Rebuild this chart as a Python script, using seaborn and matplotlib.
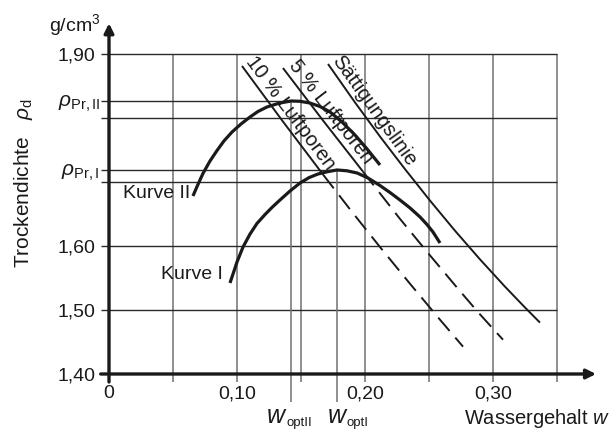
import matplotlib
matplotlib.use("Agg")
import numpy as np
import matplotlib.pyplot as plt
import seaborn as sns


# Proctor curves, water content w [-] and dry density rho_d [g/cm3]
w_kurve2 = [0.0656, 0.0688, 0.0734, 0.0789, 0.0844, 0.0898, 0.0961, 0.1031, 0.1102, 0.1164,
            0.1234, 0.1328, 0.1422, 0.1492, 0.1570, 0.1648, 0.1727, 0.1820, 0.1922, 0.2016,
            0.2117]
rho_kurve2 = [1.6781, 1.6930, 1.7133, 1.7328, 1.7492, 1.7641, 1.7781, 1.7906, 1.8016, 1.8102,
              1.8172, 1.8231, 1.8266, 1.8261, 1.8234, 1.8180, 1.8094, 1.7938, 1.7734, 1.7516,
              1.7266]

w_kurve1 = [0.0945, 0.0969, 0.1000, 0.1047, 0.1102, 0.1156, 0.1219, 0.1273, 0.1336, 0.1414,
            0.1492, 0.1563, 0.1633, 0.1703, 0.1781, 0.1859, 0.1938, 0.2023, 0.2117, 0.2195,
            0.2273, 0.2352, 0.2430, 0.2484, 0.2531, 0.2586]
rho_kurve1 = [1.5422, 1.5563, 1.5750, 1.5984, 1.6188, 1.6352, 1.6492, 1.6602, 1.6719, 1.6859,
              1.6984, 1.7069, 1.7125, 1.7159, 1.7188, 1.7175, 1.7141, 1.7063, 1.6945, 1.6836,
              1.6719, 1.6594, 1.6453, 1.6336, 1.6219, 1.6047]

# saturation line and air void lines
w_saett = [0.1711, 0.1922, 0.2117, 0.2313, 0.2508, 0.2703, 0.2898, 0.3094, 0.3250, 0.3367]
rho_saett = [1.8844, 1.8243, 1.7711, 1.7200, 1.6709, 1.6239, 1.5792, 1.5364, 1.5039, 1.4803]

w_lp5 = [0.1359, 0.1672, 0.1984, 0.2266, 0.2500, 0.2734, 0.2891, 0.3078]
rho_lp5 = [1.8781, 1.7961, 1.7163, 1.6442, 1.5872, 1.5314, 1.4948, 1.4536]

w_lp10 = [0.1039, 0.1352, 0.1672, 0.1898, 0.2117, 0.2352, 0.2586, 0.2766]
rho_lp10 = [1.8813, 1.7963, 1.7117, 1.6534, 1.5984, 1.5409, 1.4848, 1.4427]

# Proctor optimum
w_opt = [0.1422, 0.1781]          # II, I
rho_pr = [1.8266, 1.7188]         # II, I

x_ticks = [0.0, 0.10, 0.20, 0.30]
x_ticklabels = ["0", "0,10", "0,20", "0,30"]
y_ticks = [1.40, 1.50, 1.60, 1.90]
y_ticklabels = ["1,40", "1,50", "1,60", "1,90"]
grid_w = [0.05, 0.10, 0.15, 0.20, 0.25, 0.30, 0.35]
grid_rho = [1.50, 1.60, 1.70, 1.80, 1.90]

INK = "#1a1a1a"

sns.set_theme(style="white")
plt.rcParams["font.family"] = ["Liberation Sans", "DejaVu Sans"]
plt.rcParams["mathtext.fontset"] = "custom"
plt.rcParams["mathtext.rm"] = "Liberation Sans"
plt.rcParams["mathtext.it"] = "Liberation Sans:italic"
plt.rcParams["text.color"] = INK


def draw(ax, w, rho, lw, dashes=None):
    sns.lineplot(x=w, y=rho, sort=False, estimator=None, color=INK, linewidth=lw, ax=ax)
    line = ax.lines[-1]
    line.set_solid_capstyle("butt")
    line.set_solid_joinstyle("round")
    if dashes is not None:
        line.set_dashes(dashes)
        line.set_dash_capstyle("butt")


def rot_label(ax, p0, p1, xy, text):
    # angle of the line on screen
    a = ax.transData.transform(p0)
    b = ax.transData.transform(p1)
    ang = np.degrees(np.arctan2(b[1] - a[1], b[0] - a[0]))
    ax.text(xy[0], xy[1], text, rotation=ang, rotation_mode="anchor",
            ha="center", va="bottom", fontsize=14.5)


fig = plt.figure(figsize=(6.16, 4.30), dpi=100)
ax = fig.add_axes([109 / 616, 1 - 374 / 430, 448 / 616, 320 / 430])
ax.set_xlim(0, 0.35)
ax.set_ylim(1.40, 1.90)
for s in ax.spines.values():
    s.set_visible(False)
ax.set_facecolor("none")

# grid (slightly longer than the plot area, acting as ticks)
ax.vlines(grid_w, 1.3875, 1.90, color="#707070", lw=1.1, clip_on=False, zorder=1)
ax.hlines(grid_rho, -0.0065, 0.35, color="#2a2a2a", lw=1.0, clip_on=False, zorder=1)
ax.vlines(w_opt, 1.356, rho_pr, color="#707070", lw=1.1, clip_on=False, zorder=1)
ax.hlines(rho_pr, -0.0065, w_opt, color="#2a2a2a", lw=1.0, clip_on=False, zorder=1)

# axes with arrows
ax.annotate("", xy=(0, 1.948), xytext=(0, 1.3875), annotation_clip=False,
            arrowprops=dict(arrowstyle="-|>", lw=2.4, color=INK, mutation_scale=14,
                            shrinkA=0, shrinkB=0))
ax.annotate("", xy=(0.3805, 1.40), xytext=(-0.0065, 1.40), annotation_clip=False,
            arrowprops=dict(arrowstyle="-|>", lw=2.4, color=INK, mutation_scale=14,
                            shrinkA=0, shrinkB=0))

# curves
draw(ax, w_kurve2, rho_kurve2, 2.3)
draw(ax, w_kurve1, rho_kurve1, 2.3)
draw(ax, w_saett, rho_saett, 1.4)
draw(ax, w_lp5[:3], rho_lp5[:3], 1.4)
draw(ax, w_lp5[2:], rho_lp5[2:], 1.4, dashes=(9, 4.5))
draw(ax, w_lp10[:3], rho_lp10[:3], 1.4)
draw(ax, w_lp10[2:], rho_lp10[2:], 1.4, dashes=(9, 4.5))

# ticks
ax.set_xticks(x_ticks, x_ticklabels)
ax.set_yticks(y_ticks, y_ticklabels)
ax.tick_params(axis="x", length=0, pad=8, labelsize=14, labelcolor=INK)
ax.tick_params(axis="y", length=0, pad=10, labelsize=14, labelcolor=INK)
ax.set_xlabel("")
ax.set_ylabel("")

# labels
ax.text(-0.0072, rho_pr[0] - 0.004, r"$\rho_{\mathrm{Pr,II}}$", ha="right", va="center", fontsize=15)
ax.text(-0.0072, rho_pr[1] - 0.004, r"$\rho_{\mathrm{Pr,I}}$", ha="right", va="center", fontsize=15)

for xw, xs, sub in [(0.1375, 0.1383, "optII"), (0.1852, 0.1859, "optI")]:
    ax.text(xw, 1.3234, "w", style="italic", ha="right", va="baseline", fontsize=18)
    ax.text(xs, 1.3180, sub, ha="left", va="baseline", fontsize=9.5)

ax.text(0.0633, 1.6828, "Kurve II", ha="right", va="center", fontsize=14)
ax.text(0.0891, 1.5547, "Kurve I", ha="right", va="center", fontsize=14)

rot_label(ax, (w_lp10[0], rho_lp10[0]), (w_lp10[2], rho_lp10[2]),
          (0.1356, 1.7985), "10 % Luftporen")
rot_label(ax, (w_lp5[0], rho_lp5[0]), (w_lp5[2], rho_lp5[2]),
          (0.1672, 1.8000), "5 % Luftporen")
rot_label(ax, (w_saett[0], rho_saett[0]), (w_saett[2], rho_saett[2]),
          (0.2008, 1.8022), "Sättigungslinie")

fig.text(100 / 616, 1 - 25 / 430, r"g/cm$^3$", ha="right", va="center", fontsize=14)
fig.text(610 / 616, 1 - 424 / 430, r"Wassergehalt $w$", ha="right", va="baseline", fontsize=14.5)
fig.text(24 / 616, 1 - 183 / 430, r"Trockendichte   $\rho_{\mathrm{d}}$", rotation=90,
         ha="center", va="center", fontsize=15)

fig.savefig("out.png", dpi=100)
